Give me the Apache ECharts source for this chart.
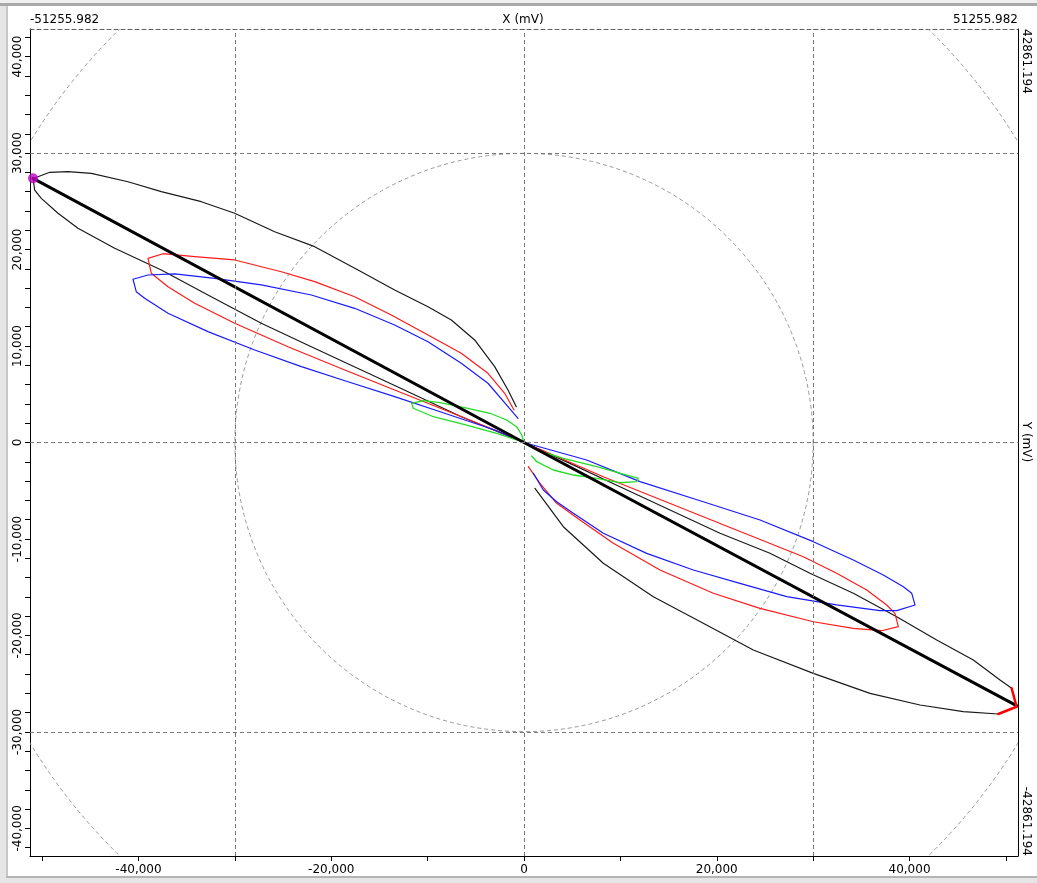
<!DOCTYPE html>
<html>
<head>
<meta charset="utf-8">
<title>X/Y loop plot</title>
<script src="https://cdn.jsdelivr.net/npm/echarts@6/dist/echarts.min.js"></script>
<style>
  html, body { margin: 0; padding: 0; background: #ffffff; }
  #chart { width: 1037px; height: 883px; }
</style>
</head>
<body>
<div id="chart"></div>
<script>
// Axis extents (mV)
const xRange = [-51255.982, 51255.982];
const yRange = [-42861.194, 42861.194];

// Tick and label positions
const xTickValues = [-50000, -40000, -30000, -20000, -10000, 0, 10000, 20000, 30000, 40000, 50000];
const xLabelValues = [-40000, -20000, 0, 20000, 40000];
const yLabelValues = [-40000, -30000, -20000, -10000, 0, 10000, 20000, 30000, 40000];
const yTickStep = 2000;

// Dashed reference lines and reference circles (mV)
const refLines = [-30000, 0, 30000];
const refCircleRadii = [30000, 60000];

// Loops, each as one continuous trace [x, y] in mV
const blackLoop = [
  [1140, -4750], [4080, -8730], [8230, -12520], [13420, -15980], [18600, -18740],
  [23790, -21510], [30020, -23930], [35900, -26000], [41090, -27210], [45580, -27900],
  [49210, -28140], [51110, -27390], [50600, -25480], [49390, -24620], [46620, -22550],
  [42820, -20470], [38670, -18060], [34170, -15630], [29670, -13560], [25520, -11480],
  [20340, -9410], [15150, -7000], [9960, -4580], [4770, -2160], [0, 0],
  [-6510, 2670], [-11690, 5100], [-16880, 7520], [-22070, 9930], [-27260, 12360],
  [-32450, 15110], [-37630, 17880], [-42470, 20130], [-46280, 22200], [-48350, 23760],
  [-50080, 25310], [-50770, 26170], [-50940, 27380], [-50430, 27550], [-49210, 28010],
  [-47310, 28070], [-44890, 27900], [-41090, 27030], [-37630, 26000], [-33480, 24960],
  [-30020, 23760], [-25870, 21850], [-21720, 20300], [-17220, 17880], [-13420, 15810],
  [-9960, 14080], [-7540, 12700], [-5120, 10630], [-3040, 7860], [-1660, 5440], [-800, 3710]
];

const redLoop = [
  [450, -2510], [1660, -4230], [3390, -6300], [5810, -8030], [9270, -10450],
  [14110, -13220], [19640, -15630], [24490, -17190], [30020, -18580], [34170, -19260],
  [37110, -19510], [38840, -19090], [38490, -17710], [37630, -16840], [35560, -15290],
  [32440, -13560], [28980, -11840], [23790, -9770], [18600, -7690], [13420, -5620],
  [8230, -3550], [3040, -1300], [0, 0],
  [-3040, 1300], [-8230, 3370], [-13420, 5440], [-18600, 7520], [-24490, 9930],
  [-30020, 12360], [-34170, 14430], [-36940, 16150], [-38670, 17540], [-39010, 19090],
  [-37460, 19570], [-34170, 19260], [-30020, 18920], [-25180, 17700], [-21720, 16670],
  [-17570, 15110], [-13770, 13220], [-9960, 11140], [-6510, 9250], [-3740, 7170],
  [-2000, 5100], [-1040, 3370]
];

const blueLoop = [
  [970, -3190], [2000, -4920], [3390, -6140], [5120, -7340], [8230, -9410],
  [12730, -11490], [17570, -13220], [22410, -14600], [27260, -15980], [32440, -16840],
  [36940, -17430], [38670, -17430], [40570, -16840], [40230, -15630], [39360, -14950],
  [37280, -13730], [34170, -12180], [30020, -10280], [24490, -8030], [18600, -6140],
  [12040, -4060], [6500, -1810], [0, 0],
  [-3040, 1300], [-8230, 3030], [-13420, 4750], [-18260, 6300], [-23100, 7860],
  [-27940, 9590], [-32790, 11490], [-36940, 13390], [-39360, 14950], [-40230, 15630],
  [-40570, 16920], [-39010, 17360], [-36240, 17470], [-32090, 17020], [-27260, 16330],
  [-22070, 15290], [-17570, 13910], [-13420, 12180], [-9960, 10450], [-6510, 8210],
  [-3740, 6140], [-1660, 3710], [-620, 2510]
];

const greenLoop = [
  [800, -1400], [1320, -1990], [3040, -2850], [5120, -3370], [7540, -3710],
  [9960, -4170], [11690, -4060], [11860, -3710], [10660, -3370], [7540, -2510],
  [4080, -1640], [1320, -780], [0, 0],
  [-2830, 950], [-5950, 1810], [-9410, 2670], [-11490, 3550], [-11650, 4060],
  [-10450, 4330], [-8720, 4130], [-6300, 3650], [-3530, 3030], [-1800, 2330],
  [-760, 1640], [-240, 780], [0, 0]
];

// Main axis through the loops
const mainAxisLine = [[-50940, 27380], [0, 0], [51150, -27300]];
// Highlighted segment at the right-hand tip of the black loop
const tipSegment = [[49210, -28140], [51110, -27390], [50600, -25480]];
// Marker at the left end of the main axis
const endMarker = [[-50940, 27380]];

const FONT = '"DejaVu Sans", Verdana, sans-serif';

function thousands(v) {
  const s = Math.abs(v).toString().replace(/\B(?=(\d{3})+(?!\d))/g, ',');
  return (v < 0 ? '-' : '') + s;
}

const yTickValues = [];
for (let v = -42000; v <= 42000; v += yTickStep) yTickValues.push(v);

const chart = echarts.init(document.getElementById('chart'), null, { renderer: 'canvas' });

const GRID = { left: 30, right: 19, top: 29, bottom: 27 };

function trace(name, data, color, width, z) {
  return {
    name: name,
    type: 'line',
    data: data,
    showSymbol: false,
    symbol: 'none',
    clip: true,
    z: z,
    silent: true,
    animation: false,
    lineStyle: { color: color, width: width, cap: 'round', join: 'round' }
  };
}

const option = {
  backgroundColor: '#ffffff',
  animation: false,
  grid: Object.assign({ containLabel: false, outerBoundsMode: 'none' }, GRID),
  xAxis: [
    {
      type: 'value', position: 'bottom',
      min: xRange[0], max: xRange[1],
      axisLine: { show: true, onZero: false, lineStyle: { color: '#000000', width: 1 } },
      axisTick: { show: true, inside: false, length: 5, customValues: xTickValues,
                  lineStyle: { color: '#000000', width: 1 } },
      axisLabel: { show: true, customValues: xLabelValues, margin: 8, color: '#000000',
                   fontFamily: FONT, fontSize: 12, formatter: thousands },
      splitLine: { show: false }, minorTick: { show: false }
    },
    {
      type: 'value', position: 'top',
      min: xRange[0], max: xRange[1],
      axisLine: { show: true, onZero: false, lineStyle: { color: '#606060', width: 1, type: [4, 3] } },
      axisTick: { show: false }, axisLabel: { show: false }, splitLine: { show: false }
    }
  ],
  yAxis: [
    {
      type: 'value', position: 'left',
      min: yRange[0], max: yRange[1],
      axisLine: { show: true, onZero: false, lineStyle: { color: '#000000', width: 1 } },
      axisTick: { show: true, inside: false, length: 5, customValues: yTickValues,
                  lineStyle: { color: '#000000', width: 1 } },
      axisLabel: { show: true, customValues: yLabelValues, rotate: 90, margin: 6, color: '#000000',
                   fontFamily: FONT, fontSize: 12, formatter: thousands },
      splitLine: { show: false }, minorTick: { show: false }
    },
    {
      type: 'value', position: 'right',
      min: yRange[0], max: yRange[1],
      axisLine: { show: true, onZero: false, lineStyle: { color: '#000000', width: 1 } },
      axisTick: { show: false }, axisLabel: { show: false }, splitLine: { show: false }
    }
  ],
  graphic: [
    // window frame
    { type: 'rect', shape: { x: 0, y: 0, width: 1037, height: 3 }, style: { fill: '#f0f0f0' }, silent: true },
    { type: 'rect', shape: { x: 0, y: 3, width: 1037, height: 3 }, style: { fill: '#a9a9a9' }, silent: true },
    { type: 'rect', shape: { x: 0, y: 6, width: 6, height: 877 }, style: { fill: '#e6e6e6' }, silent: true },
    { type: 'rect', shape: { x: 6, y: 6, width: 2, height: 871 }, style: { fill: '#c8c8c8' }, silent: true },
    { type: 'rect', shape: { x: 6, y: 876, width: 1031, height: 2 }, style: { fill: '#b4b4b4' }, silent: true },
    { type: 'rect', shape: { x: 0, y: 878, width: 1037, height: 5 }, style: { fill: '#e6e6e6' }, silent: true },
    // axis extent labels and names
    { type: 'text', x: 30, y: 20, silent: true,
      style: { text: xRange[0].toFixed(3), fill: '#000', font: '12px ' + FONT, align: 'left', verticalAlign: 'middle' } },
    { type: 'text', x: 1018, y: 20, silent: true,
      style: { text: xRange[1].toFixed(3), fill: '#000', font: '12px ' + FONT, align: 'right', verticalAlign: 'middle' } },
    { type: 'text', x: 523, y: 20, silent: true,
      style: { text: 'X (mV)', fill: '#000', font: '12px ' + FONT, align: 'center', verticalAlign: 'middle' } },
    { type: 'text', x: 1026, y: 29, rotation: -Math.PI / 2, silent: true,
      style: { text: yRange[1].toFixed(3), fill: '#000', font: '12px ' + FONT, align: 'left', verticalAlign: 'middle' } },
    { type: 'text', x: 1026, y: 442, rotation: -Math.PI / 2, silent: true,
      style: { text: 'Y (mV)', fill: '#000', font: '12px ' + FONT, align: 'center', verticalAlign: 'middle' } },
    { type: 'text', x: 1026, y: 856, rotation: -Math.PI / 2, silent: true,
      style: { text: yRange[0].toFixed(3), fill: '#000', font: '12px ' + FONT, align: 'right', verticalAlign: 'middle' } }
  ],
  series: [
    {
      name: 'reference',
      type: 'custom',
      clip: true,
      z: 1,
      silent: true,
      data: refCircleRadii.map(function (r) { return [0, 0, r]; }),
      renderItem: function (params, api) {
        const c = api.coord([api.value(0), api.value(1)]);
        const s = api.size([api.value(2), api.value(2)]);
        return {
          type: 'circle',
          shape: { cx: c[0], cy: c[1], r: s[0] },
          style: { fill: null, stroke: '#999999', lineWidth: 1, lineDash: [4, 3] }
        };
      },
      markLine: {
        silent: true,
        symbol: ['none', 'none'],
        label: { show: false },
        animation: false,
        lineStyle: { color: '#7a7a7a', width: 1, type: [4, 3] },
        data: refLines.map(function (v) { return { xAxis: v }; })
          .concat(refLines.map(function (v) { return { yAxis: v }; }))
      }
    },
    trace('black', blackLoop, '#1a1a1a', 1.2, 3),
    trace('red', redLoop, '#ff1a1a', 1.2, 3),
    trace('blue', blueLoop, '#1a1aff', 1.2, 3),
    trace('green', greenLoop, '#22dd22', 1.3, 3),
    trace('axis', mainAxisLine, '#000000', 3, 4),
    trace('tip', tipSegment, '#ff0000', 2.5, 5),
    {
      name: 'end',
      type: 'scatter',
      data: endMarker,
      symbol: 'circle',
      symbolSize: 10,
      clip: false,
      z: 6,
      silent: true,
      itemStyle: { color: '#c000c0' }
    }
  ]
};

chart.setOption(option);
</script>
</body>
</html>
